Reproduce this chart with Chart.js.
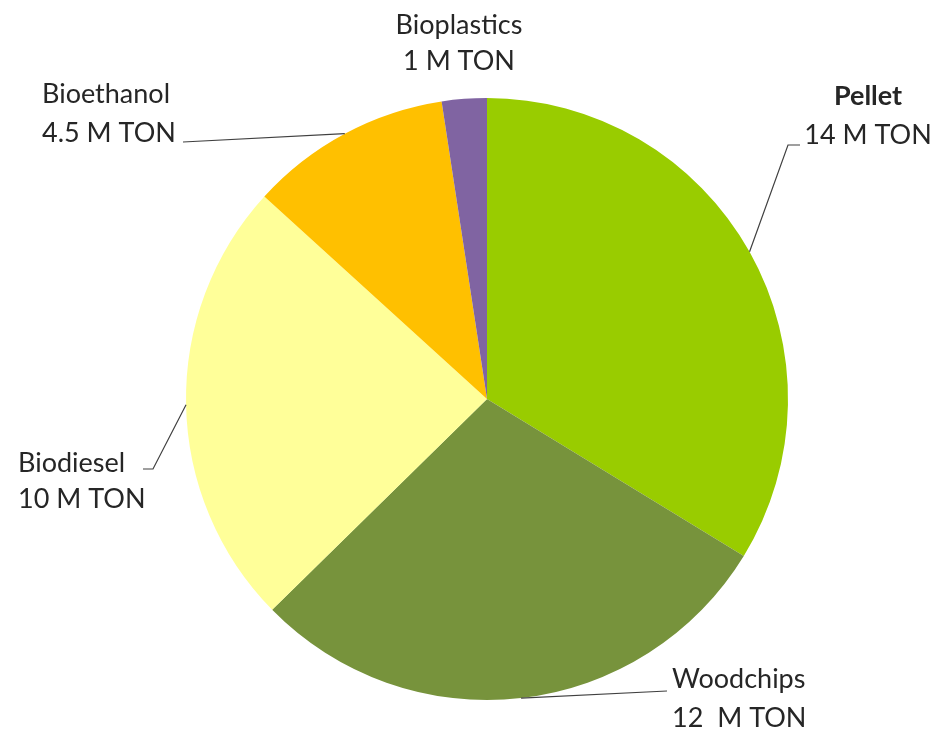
<!DOCTYPE html>
<html>
<head>
<meta charset="utf-8">
<script src="https://cdn.jsdelivr.net/npm/chart.js"></script>
<style>
html,body{margin:0;padding:0;background:#fff;}
#wrap{width:935px;height:731px;}
</style>
</head>
<body>
<div id="wrap"><canvas id="c" width="935" height="731"></canvas></div>
<script>
const categories = ["Pellet", "Woodchips", "Biodiesel", "Bioethanol", "Bioplastics"];
const values = [14, 12, 10, 4.5, 1];
const valueLabels = ["14 M TON", "12  M TON", "10 M TON", "4.5 M TON", "1 M TON"];
const colors = ["#99CC00", "#77933C", "#FFFF99", "#FFC000", "#8064A2"];

// label placement (layout only); y1/y2 are text baselines
const labelLayout = [
  {x: 868, y1: 105, y2: 144, align: "center", bold: true, leader: {x: 788, y: 145, hx: 800}},
  {x: 672, y1: 688, y2: 727, align: "left", leader: {x: 667, y: 691}},
  {x: 18, y1: 472, y2: 508, align: "left", leader: {x: 153, y: 469, hx: 143}},
  {x: 42, y1: 103, y2: 142, align: "left", leader: {x: 183, y: 142}},
  {x: 459, y1: 34, y2: 70, align: "center"}
];

const FONT = "27px Lato, 'Open Sans', sans-serif";

const labelPlugin = {
  id: "labels",
  afterDatasetsDraw(chart) {
    const ctx = chart.ctx;
    const meta = chart.getDatasetMeta(0);
    ctx.save();
    meta.data.forEach((arc, i) => {
      const L = labelLayout[i];
      const p = arc.getProps(["x", "y", "startAngle", "endAngle", "outerRadius"], true);
      const mid = (p.startAngle + p.endAngle) / 2;
      if (L.leader) {
        const ax = p.x + Math.cos(mid) * p.outerRadius;
        const ay = p.y + Math.sin(mid) * p.outerRadius;
        ctx.strokeStyle = "#404040";
        ctx.lineWidth = 1.2;
        ctx.beginPath();
        ctx.moveTo(ax, ay);
        ctx.lineTo(L.leader.x, L.leader.y);
        if (L.leader.hx !== undefined) ctx.lineTo(L.leader.hx, L.leader.y);
        ctx.stroke();
      }
      ctx.fillStyle = "#262626";
      ctx.textAlign = L.align;
      ctx.textBaseline = "alphabetic";
      ctx.font = (L.bold ? "bold " : "") + FONT;
      ctx.fillText(categories[i], L.x, L.y1);
      ctx.font = FONT;
      ctx.fillText(valueLabels[i], L.x, L.y2);
    });
    ctx.restore();
  }
};

new Chart(document.getElementById("c"), {
  type: "pie",
  data: {
    labels: categories,
    datasets: [{data: values, backgroundColor: colors, borderWidth: 0}]
  },
  options: {
    responsive: false,
    animation: false,
    layout: {padding: {top: 98, bottom: 31, left: 186, right: 147}},
    plugins: {legend: {display: false}, tooltip: {enabled: false}}
  },
  plugins: [labelPlugin]
});
</script>
</body>
</html>
